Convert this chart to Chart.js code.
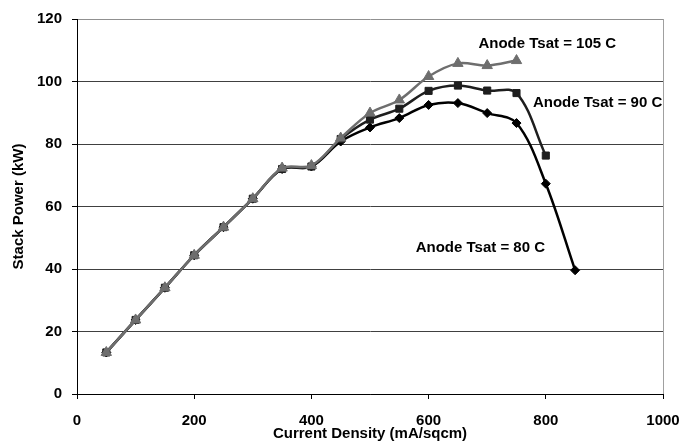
<!DOCTYPE html>
<html>
<head>
<meta charset="utf-8">
<script src="https://cdn.jsdelivr.net/npm/chart.js@4/dist/chart.umd.min.js"></script>
<style>
  html, body { margin: 0; padding: 0; background: #fff; }
  #wrap { width: 684px; height: 445px; }
</style>
</head>
<body>
<div id="wrap"><canvas id="stackChart" width="684" height="445"></canvas></div>
<script>
const currentDensity = [50, 100, 150, 200, 250, 300, 350, 400, 450, 500, 550, 600, 650, 700, 750, 800, 850];
const power80 = [13.3, 23.7, 34.0, 44.4, 53.4, 62.5, 72.0, 72.8, 80.8, 85.3, 88.3, 92.5, 93.1, 89.9, 86.7, 67.3, 39.6];
const power90 = [13.3, 23.7, 34.0, 44.4, 53.4, 62.5, 72.0, 72.8, 81.6, 87.8, 91.3, 97.0, 98.7, 97.1, 96.3, 76.3];
const power105 = [13.3, 23.7, 34.0, 44.4, 53.4, 62.5, 72.3, 73.1, 81.9, 89.9, 94.1, 101.6, 105.8, 105.1, 106.7];
const xTicks = [0, 200, 400, 600, 800, 1000];
const yTicks = [0, 20, 40, 60, 80, 100, 120];

// curve labels, placed in data units (left edge x, middle y)
const curveLabels = [
    { text: 'Anode Tsat = 105 C', x: 685, y: 112 },
    { text: 'Anode Tsat = 90 C', x: 778, y: 93.3 },
    { text: 'Anode Tsat = 80 C', x: 578, y: 46.7 },
];

const FAMILY = '"Liberation Sans", Arial, sans-serif';
const boldFont = { family: FAMILY, size: 15, weight: 'bold' };

const toPoints = (values) => values.map((v, i) => ({ x: currentDensity[i], y: v }));

const labelPlugin = {
    id: 'curveLabels',
    afterDatasetsDraw(chart) {
        const { ctx, scales: { x, y } } = chart;
        ctx.save();
        ctx.font = 'bold 15px ' + FAMILY;
        ctx.fillStyle = '#000';
        ctx.textAlign = 'left';
        ctx.textBaseline = 'middle';
        curveLabels.forEach(l => ctx.fillText(l.text, x.getPixelForValue(l.x), y.getPixelForValue(l.y)));
        ctx.restore();
    }
};

const makeSeries = (label, values, color, style, radius) => ({
    label: label,
    data: toPoints(values),
    borderColor: color,
    backgroundColor: color,
    borderWidth: 2.5,
    pointStyle: style,
    pointRadius: radius,
    pointBorderWidth: 1,
    tension: 0.35,
    fill: false,
});

const config = {
    type: 'line',
    data: {
        datasets: [
            makeSeries('Anode Tsat = 105 C', power105, '#6e6e6e', 'triangle', 6),
            makeSeries('Anode Tsat = 90 C', power90, '#1e1e1e', 'rect', 5),
            makeSeries('Anode Tsat = 80 C', power80, '#000000', 'rectRot', 4.5),
        ]
    },
    options: {
        responsive: false,
        animation: false,
        layout: { padding: { top: 13, right: 21, left: 10, bottom: 0 } },
        plugins: { legend: { display: false }, tooltip: { enabled: false } },
        scales: {
            x: {
                type: 'linear',
                min: 0, max: 1000,
                afterBuildTicks: (s) => { s.ticks = xTicks.map(v => ({ value: v })); },
                afterFit: (s) => { s.paddingLeft = 0; s.paddingRight = 0; },
                border: { color: '#000', width: 1 },
                grid: {
                    color: (c) => c.tick && c.tick.value === 1000 ? '#a0a0a0' : 'rgba(0,0,0,0)',
                    tickColor: '#000',
                    tickLength: 5,
                },
                ticks: { color: '#000', font: boldFont, padding: 13, maxRotation: 0, callback: (v) => String(v) },
                title: {
                    display: true,
                    text: 'Current Density (mA/sqcm)',
                    color: '#000',
                    font: boldFont,
                    padding: { top: -18, bottom: 2 },
                },
            },
            y: {
                min: 0, max: 120,
                afterBuildTicks: (s) => { s.ticks = yTicks.map(v => ({ value: v })); },
                afterFit: (s) => { s.width = 67; },
                border: { color: '#000', width: 1 },
                grid: {
                    color: (c) => c.tick && c.tick.value === 120 ? '#909090' : '#404040',
                    tickColor: '#000',
                    tickLength: 5,
                },
                ticks: { color: '#000', font: boldFont, padding: 10, callback: (v) => String(v) },
                title: {
                    display: true,
                    text: 'Stack Power (kW)',
                    color: '#000',
                    font: boldFont,
                    padding: { top: 0, bottom: 6 },
                },
            }
        }
    },
    plugins: [labelPlugin]
};

new Chart(document.getElementById('stackChart'), config);
</script>
</body>
</html>
